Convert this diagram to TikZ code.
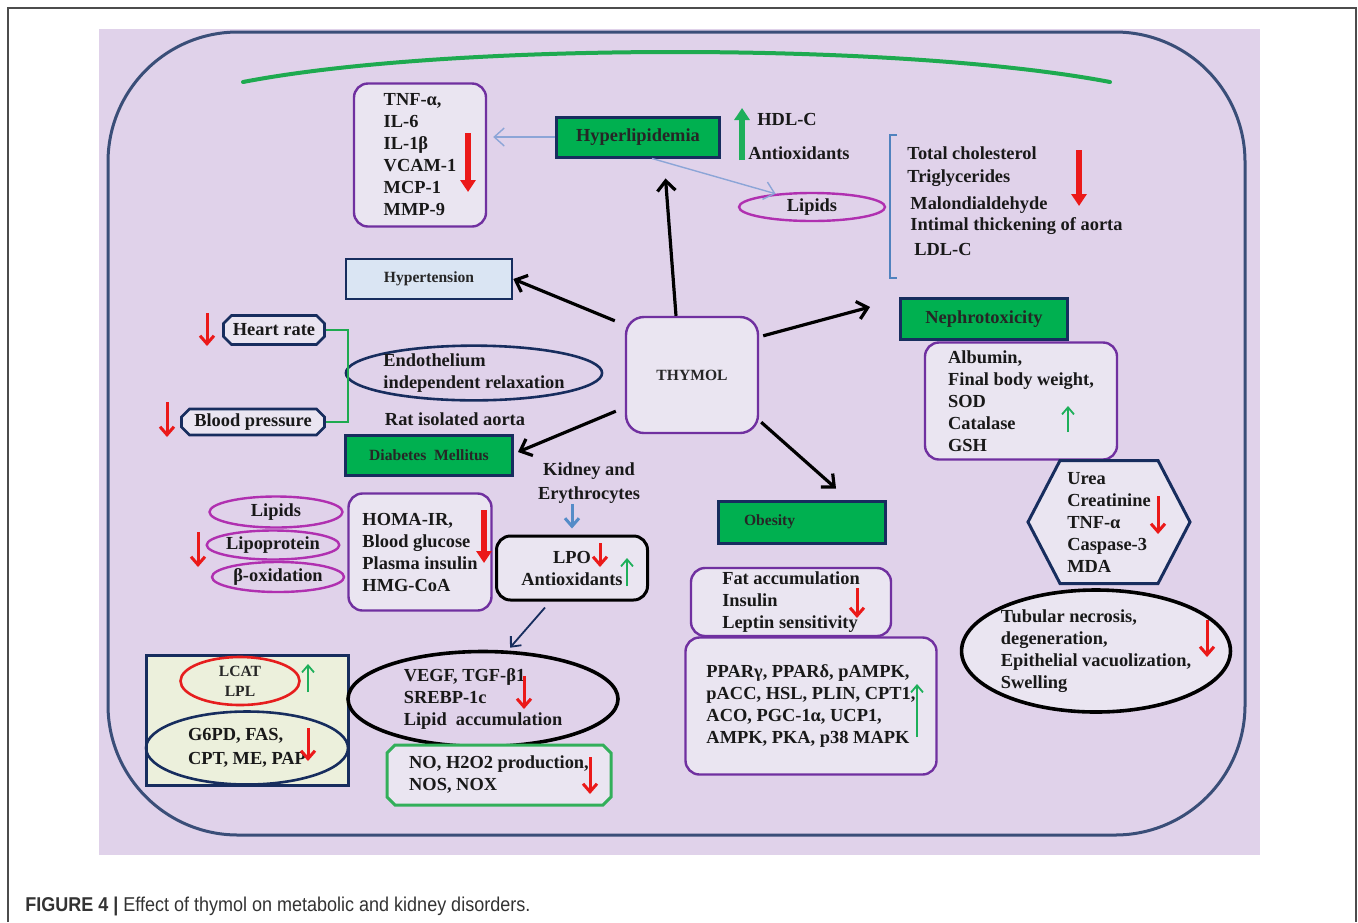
\documentclass[tikz,border=0pt]{standalone}
\usepackage{fontspec}
\setmainfont{Liberation Serif}
\newfontfamily\capfont[FakeStretch=0.9]{Liberation Sans}
\usetikzlibrary{arrows.meta,shapes.geometric,shapes.misc,shapes.symbols}
\definecolor{bgpurple}{RGB}{224,210,234}
\definecolor{boxfill}{RGB}{234,229,241}
\definecolor{boxpurple}{RGB}{112,48,160}
\definecolor{navyline}{RGB}{23,45,94}
\definecolor{greenfill}{RGB}{0,176,80}
\definecolor{lipmagenta}{RGB}{176,48,176}
\definecolor{framebl}{RGB}{58,78,120}
\definecolor{greenarc}{RGB}{30,170,80}
\definecolor{bracketblue}{RGB}{80,130,190}
\definecolor{thinblue}{RGB}{140,165,215}
\definecolor{kidneyblue}{RGB}{85,140,200}
\definecolor{redarrow}{RGB}{235,25,25}
\definecolor{greenarrow}{RGB}{30,175,90}
\definecolor{hypfill}{RGB}{218,229,243}
\definecolor{creamfill}{RGB}{236,240,220}
\definecolor{nogreen}{RGB}{50,175,90}
\definecolor{lcatred}{RGB}{230,30,30}
\begin{document}
\begin{tikzpicture}
    [x=0.5pt,y=-0.5pt,inner sep=0pt,
    txt/.style={font=\bfseries\fontsize{9.2}{11}\selectfont,align=left,text=black!90},
    smalltxt/.style={font=\bfseries\fontsize{7.8}{9}\selectfont,text=black!85},
    biglabel/.style={font=\bfseries\fontsize{9.2}{11}\selectfont},
    listbox/.style={txt,draw=boxpurple,line width=1.2pt,fill=boxfill,rounded corners=7pt},
    greenbox/.style={smalltxt,draw=navyline,line width=1.5pt,fill=greenfill},
    bluebox/.style={smalltxt,draw=navyline,line width=1.3pt,fill=hypfill},
    lipoval/.style={txt,ellipse,draw=lipmagenta,line width=1.2pt},
    navyoval/.style={txt,ellipse,draw=navyline,line width=1.3pt},
    plaque/.style={txt,chamfered rectangle,chamfered rectangle xsep=2pt,chamfered rectangle ysep=2pt,draw=navyline,line width=1.3pt,fill=boxfill},
    mainarrow/.style={line width=1.6pt,-{Straight Barb[length=5pt,width=9pt]}},
    thinarrow/.style={draw=thinblue,line width=0.7pt,-{Straight Barb[length=5pt,width=9pt]}},
    bluearrow/.style={draw=kidneyblue,line width=1.5pt,-{Straight Barb[length=4pt,width=7pt]}},
    navyarrow/.style={draw=navyline,line width=0.9pt,-{Straight Barb[length=4pt,width=7pt]}},
    blockdown/.style={draw=redarrow,line width=3pt,-{Triangle[width=7.5pt,length=6pt]}},
    blockup/.style={draw=greenarrow,line width=3pt,-{Triangle[width=7.5pt,length=6pt]}},
    linedown/.style={draw=redarrow,line width=1.5pt,-{Straight Barb[length=4pt,width=7pt]}},
    lineup/.style={draw=greenarrow,line width=0.9pt,-{Straight Barb[length=3.5pt,width=6pt]}}]
    \fill [white] (0, 0) rectangle (1358, 922);
    \useasboundingbox (0, 0) rectangle (1358, 922);
    \draw [gray!60!black, line width=0.8pt] (8, 922) -- (8, 8) -- (1356, 8) -- (1356, 922);
    \fill [bgpurple] (99, 29) rectangle (1260, 855);
    \draw [framebl, line width=1.5pt, rounded corners=65pt] (108, 32) rectangle (1245, 835);
    \draw [greenarc, line width=2pt, line cap=round] (243, 82) .. controls (450, 42) and (900, 42) .. (1110, 82);
    \node (cyto) at (420, 155) [listbox, minimum width=66pt, minimum height=71.5pt] {TNF-α,\\IL-6\\IL-1β\\VCAM-1\\MCP-1\\MMP-9};
    \node (hyper) at (638, 137) [greenbox, biglabel, minimum width=81.5pt, minimum height=20pt] {Hyperlipidemia};
    \node (hdl) at (757, 119) [txt, anchor=west] {HDL-C};
    \node (antiox) at (748, 153) [txt, anchor=west] {Antioxidants};
    \node (lipids) at (812, 207) [lipoval, minimum width=73pt, minimum height=14pt] {Lipids};
    \node (chol) at (907, 153) [txt, anchor=west] {Total cholesterol};
    \node (trig) at (907, 178) [txt, anchor=west] {Triglycerides};
    \node (malon) at (910, 205) [txt, anchor=west] {Malondialdehyde};
    \node (intimal) at (910, 226) [txt, anchor=west] {Intimal thickening of aorta};
    \node (ldl) at (914, 249) [txt, anchor=west] {LDL-C};
    \node (thymol) at (692, 375) [listbox, smalltxt, rounded corners=9pt, minimum width=66pt, minimum height=58pt] {THYMOL};
    \node (hypert) at (429, 279) [bluebox, minimum width=83pt, minimum height=20pt] {Hypertension};
    \node (heart) at (274, 330) [plaque, minimum width=50.5pt, minimum height=14.5pt] {Heart rate};
    \node (bp) at (253, 422) [plaque, minimum width=71.5pt, minimum height=13pt] {Blood pressure};
    \node (endo) at (474, 373) [navyoval, minimum width=123.5pt, minimum height=26pt] {Endothelium\\independent relaxation};
    \node (ratao) at (455, 419) [txt] {Rat isolated aorta};
    \node (diab) at (429, 455) [greenbox, minimum width=83.5pt, minimum height=20pt] {Diabetes\ \ Mellitus};
    \node (kidney) at (589, 483) [txt, align=center, font=\bfseries\fontsize{9.2}{12}\selectfont] {Kidney and\\Erythrocytes};
    \node (lpo) at (572, 568) [txt, align=center, draw=black, line width=1.5pt, fill=boxfill, rounded corners=7pt, minimum width=75.5pt, minimum height=32pt] {LPO\\Antioxidants};
    \node (lipb) at (276, 512) [lipoval, minimum width=66.5pt, minimum height=15.5pt] {Lipids};
    \node (lipoprot) at (273, 545) [lipoval, minimum width=63pt, minimum height=14.5pt] {Lipoprotein};
    \node (betaox) at (278, 577) [lipoval, minimum width=66pt, minimum height=15pt] {β-oxidation};
    \node (homa) at (420, 552) [listbox, minimum width=71.5pt, minimum height=58.5pt] {HOMA-IR,\\Blood glucose\\Plasma insulin\\HMG-CoA};
    \node (enzrect) at (247, 720) [draw=navyline, line width=1.5pt, fill=creamfill, minimum width=101pt, minimum height=65pt] {};
    \node (lcat) at (240, 681) [smalltxt, ellipse, align=center, draw=lcatred, line width=1.3pt, minimum width=59.5pt, minimum height=24pt, font=\bfseries\fontsize{7.8}{10}\selectfont] {LCAT\\LPL};
    \node (g6pd) at (247, 748) [navyoval, font=\bfseries\fontsize{9.2}{12}\selectfont, minimum width=101pt, minimum height=36.5pt] {G6PD, FAS,\\CPT, ME, PAP};
    \node (vegf) at (483, 699) [txt, ellipse, draw=black, line width=1.8pt, minimum width=135pt, minimum height=47.5pt] {VEGF, TGF-β1\\SREBP-1c\\Lipid\ \ accumulation};
    \node (nobox) at (499, 775) [plaque, draw=nogreen, line width=1.5pt, minimum width=112pt, minimum height=30pt] {NO, H2O2 production,\\NOS, NOX};
    \node (obes) at (802, 522) [greenbox, text width=58pt, align=left, minimum width=83.5pt, minimum height=21pt] {Obesity};
    \node (fatbox) at (791, 602) [listbox, minimum width=100pt, minimum height=34pt] {Fat accumulation\\Insulin\\Leptin sensitivity};
    \node (ppar) at (811, 706) [listbox, minimum width=125.5pt, minimum height=68.5pt] {PPARγ, PPARδ, pAMPK,\\pACC, HSL, PLIN, CPT1,\\ACO, PGC-1α, UCP1,\\AMPK, PKA, p38 MAPK};
    \node (nephro) at (984, 319) [greenbox, biglabel, minimum width=83.5pt, minimum height=20.5pt] {Nephrotoxicity};
    \node (albbox) at (1021, 401) [listbox, minimum width=96pt, minimum height=58.5pt] {Albumin,\\Final body weight,\\SOD\\Catalase\\GSH};
    \node (hexa) at (1109, 522) [txt, signal, signal to=west and east, signal pointer angle=125, draw=navyline, line width=1.5pt, fill=boxfill, minimum width=81pt, minimum height=61.5pt] {Urea\\Creatinine\\TNF-α\\Caspase-3\\MDA};
    \node (tubular) at (1096, 651) [txt, ellipse, draw=black, line width=1.8pt, fill=boxfill, minimum width=134pt, minimum height=61pt] {Tubular necrosis,\\degeneration,\\Epithelial vacuolization,\\Swelling};
    \draw [bracketblue, line width=1.3pt] (897, 135) -- (890, 135) -- (890, 278) -- (897, 278);
    \draw [thinarrow, shorten >=3pt] (hyper.west) to (cyto.east |- hyper.west);
    \draw [thinarrow] ([shift={(14, 0)}]hyper.south) to (lipids.160);
    \draw [mainarrow, shorten >=10pt] ([shift={(-16, 0)}]thymol.north) to ([shift={(26, 0)}]hyper.south);
    \draw [mainarrow] ([shift={(-10, 5)}]thymol.north west) to (hypert.east);
    \draw [mainarrow] ([shift={(4, 20)}]thymol.north east) to ([shift={(-29, -12)}]nephro.west);
    \draw [mainarrow] ([shift={(-9, -23)}]thymol.south west) to ([shift={(4, -3)}]diab.east);
    \draw [mainarrow] ([shift={(2, -12)}]thymol.south east) to ([shift={(34, -11)}]obes.north);
    \draw [greenarc, line width=1.3pt] (heart.east) -- ++(22, 0) |- (bp.east);
    \draw [bluearrow, shorten >=3pt] (kidney.south -| lpo.north) to (lpo.north);
    \draw [navyarrow] ([shift={(-27, 6)}]lpo.south) to ([shift={(27, -2)}]vegf.north);
    \draw [blockdown] (468, 133) to (468, 192);
    \draw [blockup] (742, 160) to (742, 108);
    \draw [blockdown] (1079, 150) to (1079, 206);
    \draw [linedown] (207, 313) to (207, 346);
    \draw [linedown] (167, 402) to (167, 437);
    \draw [linedown] (600, 543) to (600, 567);
    \draw [lineup] (627, 586) to (627, 558);
    \draw [linedown] (198, 532) to (198, 567);
    \draw [blockdown] (484, 510) to (484, 563);
    \draw [lineup] (308, 692) to (308, 664);
    \draw [linedown] (308, 728) to (308, 761);
    \draw [linedown] (524, 676) to (524, 709);
    \draw [linedown] (590, 757) to (590, 794);
    \draw [linedown] (857, 588) to (857, 618);
    \draw [lineup] (917, 737) to (917, 684);
    \draw [lineup] (1068, 432) to (1068, 406);
    \draw [linedown] (1158, 496) to (1158, 534);
    \draw [linedown] (1207, 620) to (1207, 657);
    \node (caption) at (25, 906) [anchor=west, font=\capfont\fontsize{10}{12}\selectfont, text=black!80] {\textbf{FIGURE 4 |} Effect of thymol on metabolic and kidney disorders.};
\end{tikzpicture}
\end{document}
